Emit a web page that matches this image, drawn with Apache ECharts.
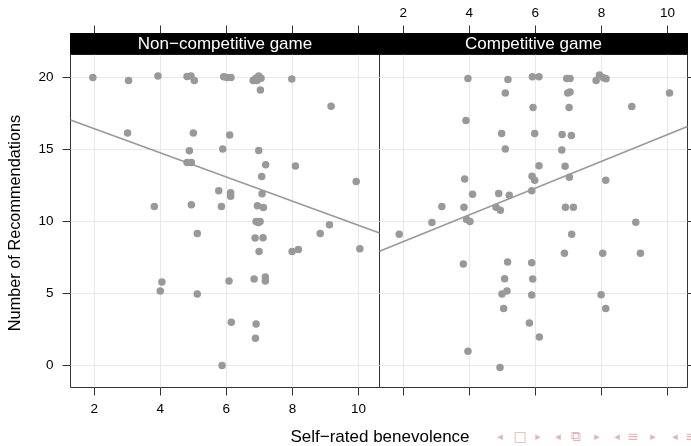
<!DOCTYPE html>
<html><head><meta charset="utf-8">
<script src="https://cdn.jsdelivr.net/npm/echarts@6/dist/echarts.min.js"></script>
<style>html,body{margin:0;padding:0;background:#fff}#c{width:691px;height:446px}</style>
</head><body><div id="c"></div>
<script>
// ---- data ----
const panelNames = ['Non\u2212competitive game', 'Competitive game'];
const xTitle = 'Self\u2212rated benevolence';
const yTitle = 'Number of Recommendations';
const xTicks = [2, 4, 6, 8, 10];
const yTicks = [0, 5, 10, 15, 20];

const nonCompX = [1.96,3.04,3.93,4.81,4.93,5.03,5.92,6.02,6.14,6.81,6.89,6.98,7.05,6.93,7.03,7.98,9.17,
  3.01,5.00,6.10,4.88,5.89,6.98,4.81,4.94,7.19,8.09,7.07,9.93,5.77,6.13,6.13,7.08,
  3.82,4.94,5.85,6.94,7.12,6.90,6.97,7.02,5.12,6.87,7.11,6.99,7.99,8.18,8.84,9.12,10.04,
  4.05,4.00,5.12,6.08,6.84,7.18,7.18,6.15,6.90,6.88,5.87];
const nonCompY = [20.0,19.8,20.1,20.07,20.1,19.8,20.05,20.0,20.0,19.8,19.95,20.1,19.95,19.8,19.13,19.9,18.0,
  16.15,16.15,16.0,14.92,15.04,14.94,14.09,14.09,13.95,13.86,13.12,12.77,12.13,11.99,11.75,11.92,
  11.04,11.16,11.04,11.09,10.97,10.0,9.93,10.0,9.17,8.85,8.87,7.92,7.92,8.06,9.17,9.77,8.11,
  5.79,5.17,4.96,5.86,6.0,6.14,5.86,3.0,2.88,1.89,0.0];

const compX = [3.96,5.17,5.91,6.11,6.95,7.05,7.84,7.94,8.06,8.14,5.09,6.98,7.05,10.06,5.93,7.02,8.92,
  3.90,4.98,5.98,6.81,7.09,5.09,6.80,6.11,6.90,3.86,5.90,5.98,7.03,8.13,4.10,4.89,5.21,5.89,
  3.17,3.84,4.81,4.94,6.91,7.15,2.87,3.92,4.02,1.88,3.82,5.16,5.89,5.07,5.92,4.99,5.14,5.89,
  5.04,5.82,6.12,3.96,4.93,9.04,7.10,6.88,8.04,9.18,7.99,8.13];
const compY = [19.93,19.86,20.05,20.05,19.93,19.93,19.79,20.17,19.98,19.91,18.92,18.92,19.0,18.92,17.92,17.92,17.99,
  17.02,16.12,16.12,16.05,15.98,15.04,14.97,13.88,13.83,12.96,13.14,12.86,13.07,12.86,11.89,11.94,11.82,12.13,
  11.04,10.99,10.99,10.78,10.99,10.99,9.93,10.14,10.0,9.12,7.04,7.18,7.14,6.03,6.0,4.96,5.17,4.89,
  3.95,2.95,1.98,0.99,-0.14,9.95,9.12,7.8,7.8,7.8,4.92,3.95];

const fitIntercept = [18.12, 6.74];
const fitSlope = [-0.839, 0.929];

const navGlyphs = ['\u25C2','\u25A1','\u25B8','\u25C2','\u29C9','\u25B8','\u25C2','\u2261','\u25B8','\u25C2','\u2261'];

// ---- layout ----
const xMin = 1.283, xMaxL = 10.635, xMaxR = 10.605;
const yMin = -1.53, yMax = 21.6;
const FONT = '"Liberation Sans", Arial, sans-serif';
const tickColor = '#333';
const gridColor = '#e8e8e8';
const ptColor = '#999999';
const navX = [500, 520, 538, 558, 576, 597, 617, 633, 653, 675, 691];

function pts(xs, ys) { return xs.map((x, i) => [x, ys[i]]); }
function fitLine(k, a, b) {
  return [[a, fitIntercept[k] + fitSlope[k] * a], [b, fitIntercept[k] + fitSlope[k] * b]];
}

const chart = echarts.init(document.getElementById('c'), null, {renderer: 'canvas'});

function xAxisBottom(gi, max, labels) {
  return {
    gridIndex: gi, type: 'value', min: xMin, max: max, position: 'bottom',
    axisLine: {show: false, onZero: false},
    axisTick: {show: true, inside: false, length: 8, customValues: xTicks, lineStyle: {color: tickColor, width: 1}},
    axisLabel: {show: labels, customValues: xTicks, margin: 15, fontSize: 13.5, fontFamily: FONT, color: '#000'},
    splitLine: {show: true, lineStyle: {color: gridColor, width: 1}}
  };
}
function xAxisTop(gi, max, labels) {
  return {
    gridIndex: gi, type: 'value', min: xMin, max: max, position: 'top', offset: 21,
    axisLine: {show: false, onZero: false},
    axisTick: {show: true, inside: false, length: 8, customValues: xTicks, lineStyle: {color: tickColor, width: 1}},
    axisLabel: {show: labels, customValues: xTicks, margin: 13, fontSize: 13.5, fontFamily: FONT, color: '#000'},
    splitLine: {show: false}
  };
}
function yAxis(gi, pos, labels) {
  return {
    gridIndex: gi, type: 'value', min: yMin, max: yMax, position: pos,
    axisLine: {show: false, onZero: false},
    axisTick: {show: true, inside: false, length: 8, customValues: yTicks, lineStyle: {color: tickColor, width: 1}},
    axisLabel: {show: labels, customValues: yTicks, margin: 17, fontSize: 13.5, fontFamily: FONT, color: '#000'},
    splitLine: {show: true, lineStyle: {color: gridColor, width: 1}}
  };
}

const graphics = [
  {type: 'rect', shape: {x: 70, y: 33, width: 618, height: 21.5}, style: {fill: '#000'}, z: 10},
  {type: 'text', x: 225, y: 44, z: 11, style: {text: panelNames[0], fill: '#fff', font: '17px ' + FONT, textAlign: 'center', textVerticalAlign: 'middle'}},
  {type: 'text', x: 533.5, y: 44, z: 11, style: {text: panelNames[1], fill: '#fff', font: '17px ' + FONT, textAlign: 'center', textVerticalAlign: 'middle'}},
  {type: 'text', x: 380, y: 437, z: 11, style: {text: xTitle, fill: '#000', font: '17px ' + FONT, textAlign: 'center', textVerticalAlign: 'middle'}},
  {type: 'text', x: 16, y: 223, rotation: Math.PI / 2, z: 11, style: {text: yTitle, fill: '#000', font: '16.3px ' + FONT, textAlign: 'center', textVerticalAlign: 'middle'}}
];
navGlyphs.forEach((g, i) => {
  const big = (g === '\u25A1' || g === '\u29C9' || g === '\u2261');
  graphics.push({type: 'text', x: navX[i], y: 437, z: 11,
    style: {text: g, fill: '#e4b4b4', font: (big ? '14px' : '11px') + ' "DejaVu Sans"', textAlign: 'center', textVerticalAlign: 'middle'}});
});

const option = {
  animation: false,
  backgroundColor: '#fff',
  grid: [
    {left: 70.5, top: 54.5, width: 309, height: 333, show: true, borderColor: '#333', borderWidth: 1, backgroundColor: 'transparent'},
    {left: 379.5, top: 54.5, width: 308, height: 333, show: true, borderColor: '#333', borderWidth: 1, backgroundColor: 'transparent'}
  ],
  xAxis: [
    xAxisBottom(0, xMaxL, true),
    xAxisTop(0, xMaxL, false),
    xAxisBottom(1, xMaxR, false),
    xAxisTop(1, xMaxR, true)
  ],
  yAxis: [
    yAxis(0, 'left', true),
    yAxis(1, 'right', false)
  ],
  series: [
    {type: 'scatter', xAxisIndex: 0, yAxisIndex: 0, data: pts(nonCompX, nonCompY), symbol: 'circle', symbolSize: 7.5,
      itemStyle: {color: ptColor, opacity: 1}, z: 3},
    {type: 'line', xAxisIndex: 0, yAxisIndex: 0, data: fitLine(0, xMin, xMaxL), symbol: 'none', clip: true,
      lineStyle: {color: ptColor, width: 1.6}, z: 4},
    {type: 'scatter', xAxisIndex: 2, yAxisIndex: 1, data: pts(compX, compY), symbol: 'circle', symbolSize: 7.5,
      itemStyle: {color: ptColor, opacity: 1}, z: 3},
    {type: 'line', xAxisIndex: 2, yAxisIndex: 1, data: fitLine(1, xMin, xMaxR), symbol: 'none', clip: true,
      lineStyle: {color: ptColor, width: 1.6}, z: 4}
  ],
  graphic: graphics
};
chart.setOption(option);
</script>
</body></html>
